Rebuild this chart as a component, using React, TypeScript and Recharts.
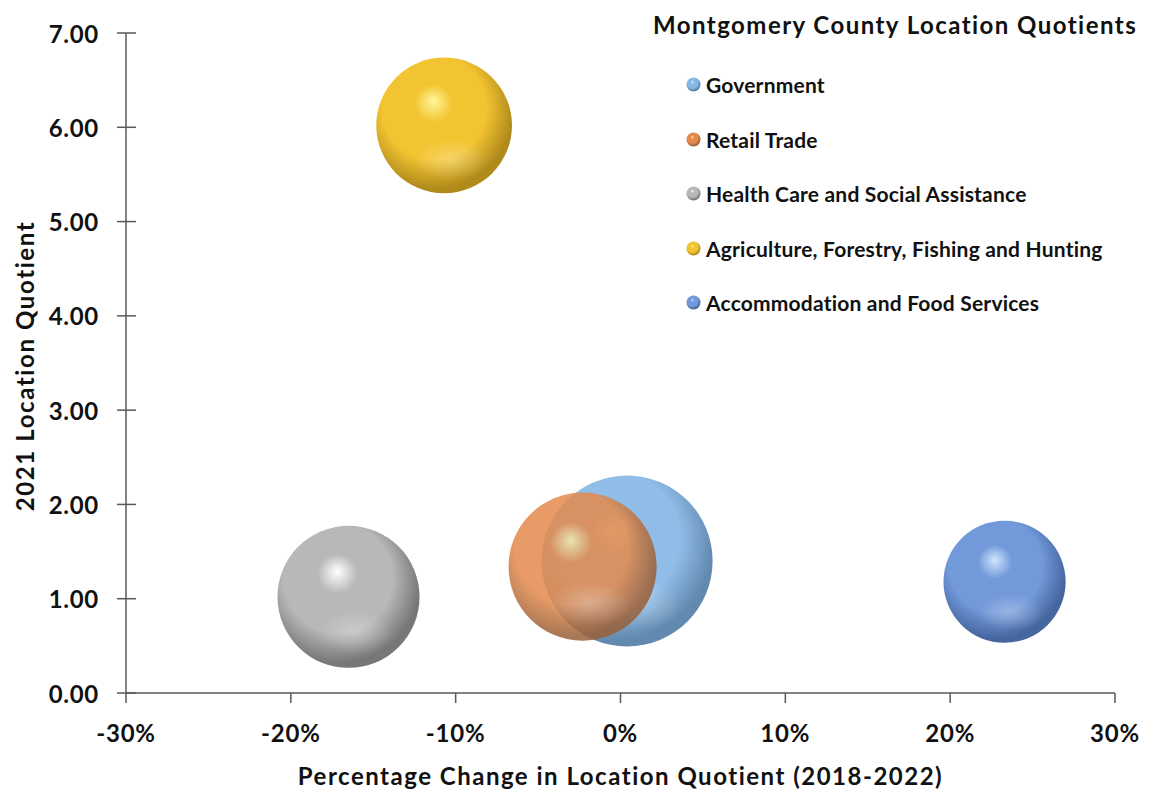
import * as React from "react"
import { ScatterChart, Scatter, XAxis, YAxis, ZAxis, Legend } from "recharts"

const sectors = [
  "Government",
  "Retail Trade",
  "Health Care and Social Assistance",
  "Agriculture, Forestry, Fishing and Hunting",
  "Accommodation and Food Services",
]
// % change in location quotient, 2018-2022
const pctChange = [0.4, -2.3, -16.5, -10.7, 23.3]
// 2021 location quotient
const lq2021 = [1.4, 1.34, 1.02, 6.02, 1.18]
// relative bubble size (area)
const bubbleSize = [1.0, 0.75, 0.69, 0.63, 0.51]

const xTicks = [-30, -20, -10, 0, 10, 20, 30]
const yTicks = [0, 1, 2, 3, 4, 5, 6, 7]

const palette = [
  { hi: "#e3f2fd", base: "#86b8e6", dark: "#557fa8", opacity: 0.92 },
  { hi: "#f8eaa8", base: "#e48a4c", dark: "#9a6038", opacity: 0.85 },
  { hi: "#ffffff", base: "#b8b8b8", dark: "#777777", opacity: 1 },
  { hi: "#fff79a", base: "#f3c431", dark: "#b08b1c", opacity: 1 },
  { hi: "#cfe6fc", base: "#7299da", dark: "#46669f", opacity: 1 },
]

const FONT = "Lato, 'Open Sans', sans-serif"
const MAX_R = 85.5

function SphereDefs({ id, c }: { id: string; c: (typeof palette)[number] }) {
  return (
    <defs>
      <radialGradient id={id} cx="0.43" cy="0.4" r="0.64" fx="0.42" fy="0.32">
        <stop offset="0" stopColor={c.hi} />
        <stop offset="0.22" stopColor={c.base} />
        <stop offset="0.6" stopColor={c.base} />
        <stop offset="0.9" stopColor={c.dark} />
        <stop offset="1" stopColor={c.dark} />
      </radialGradient>
      <radialGradient id={id + "-glow"} cx="0.5" cy="0.5" r="0.5">
        <stop offset="0" stopColor="#ffffff" stopOpacity={0.28} />
        <stop offset="1" stopColor="#ffffff" stopOpacity={0} />
      </radialGradient>
    </defs>
  )
}

function makeSphere(i: number) {
  return (props: any) => {
    const { cx, cy, size, width } = props
    const r = width ? width / 2 : Math.sqrt((size || 0) / Math.PI)
    const c = palette[i]
    const id = `sphere-${i}`
    return (
      <g opacity={c.opacity}>
        <SphereDefs id={id} c={c} />
        <circle cx={cx} cy={cy} r={r} fill={`url(#${id})`} />
        <ellipse cx={cx + r * 0.1} cy={cy + r * 0.5} rx={r * 0.55} ry={r * 0.3} fill={`url(#${id}-glow)`} />
      </g>
    )
  }
}

function YTick(props: any) {
  const { x, y, payload } = props
  const axisX = x + 18 + 9
  return (
    <g>
      <line x1={axisX - 9} x2={axisX + 10} y1={y} y2={y} stroke="#595959" strokeWidth={1.5} />
      <text x={x} y={y} textAnchor="end" dominantBaseline="central" fontFamily={FONT} fontWeight={700} fontSize={24} letterSpacing={0.7} fill="#111">
        {Number(payload.value).toFixed(2)}
      </text>
    </g>
  )
}

function YLabel(props: any) {
  const { viewBox } = props
  const cx = viewBox.x + 16
  const cy = viewBox.y + viewBox.height / 2 + 3
  return (
    <text x={cx} y={cy} transform={`rotate(-90, ${cx}, ${cy})`} textAnchor="middle" dominantBaseline="central" fontFamily={FONT} fontWeight={700} fontSize={24} letterSpacing={1.6} fill="#111">
      2021 Location Quotient
    </text>
  )
}

function XLabel(props: any) {
  const { viewBox } = props
  const cx = viewBox.x + viewBox.width / 2
  const cy = viewBox.y + 82
  return (
    <text x={cx} y={cy} textAnchor="middle" dominantBaseline="central" fontFamily={FONT} fontWeight={700} fontSize={24} letterSpacing={1.5} fill="#111">
      Percentage Change in Location Quotient (2018-2022)
    </text>
  )
}

function LegendBox(props: any) {
  const items = [...(props.payload || [])].sort(
    (a: any, b: any) => sectors.indexOf(a.value) - sectors.indexOf(b.value)
  )
  return (
    <div style={{ fontFamily: FONT, fontWeight: 700, color: "#111" }}>
      <div style={{ fontSize: 24, lineHeight: "34px", whiteSpace: "nowrap", letterSpacing: 1.45 }}>
        Montgomery County Location Quotients
      </div>
      <div style={{ marginTop: 15.5 }}>
        {items.map((entry: any) => {
          const i = sectors.indexOf(entry.value)
          return (
            <div key={`item-${i}`} style={{ height: 54.5, display: "flex", alignItems: "center", paddingLeft: 33 }}>
              <svg width={15} height={15} style={{ marginRight: 5 }}>
                <SphereDefs id={`legend-${i}`} c={palette[i]} />
                <circle cx={7.5} cy={7.5} r={7} fill={`url(#legend-${i})`} />
              </svg>
              <span style={{ fontSize: 21, whiteSpace: "nowrap", letterSpacing: 0.2 }}>{entry.value}</span>
            </div>
          )
        })}
      </div>
    </div>
  )
}

export default function App() {
  const series = sectors.map((name, i) => ({
    name,
    data: [{ x: pctChange[i], y: lq2021[i], z: bubbleSize[i] }],
  }))

  return (
    <ScatterChart width={1145} height={781} margin={{ top: 25, right: 38, bottom: 0, left: 0 }}>
      <XAxis
        type="number"
        dataKey="x"
        domain={[-30, 30]}
        ticks={xTicks}
        tickFormatter={(v) => `${v}%`}
        height={96}
        tickSize={10}
        tickMargin={22}
        axisLine={{ stroke: "#595959", strokeWidth: 1.5 }}
        tickLine={{ stroke: "#595959", strokeWidth: 1.5 }}
        tick={{ fontFamily: FONT, fontWeight: 700, fontSize: 24, fill: "#111", letterSpacing: 0.8 }}
        label={<XLabel />}
        allowDataOverflow
      />
      <YAxis
        type="number"
        dataKey="y"
        domain={[0, 7]}
        ticks={yTicks}
        width={118}
        tickSize={9}
        tickMargin={18}
        axisLine={{ stroke: "#595959", strokeWidth: 1.5 }}
        tickLine={false}
        tick={<YTick />}
        label={<YLabel />}
      />
      <ZAxis type="number" dataKey="z" domain={[0, 1]} range={[0, Math.PI * MAX_R * MAX_R]} />
      <Legend
        layout="vertical"
        align="center"
        verticalAlign="middle"
        wrapperStyle={{ top: 0, left: 645, width: 498 }}
        content={<LegendBox />}
      />
      {series.map((s, i) => (
        <Scatter
          key={s.name}
          name={s.name}
          data={s.data}
          fill={palette[i].base}
          legendType="circle"
          shape={makeSphere(i)}
          isAnimationActive={false}
        />
      ))}
    </ScatterChart>
  )
}
